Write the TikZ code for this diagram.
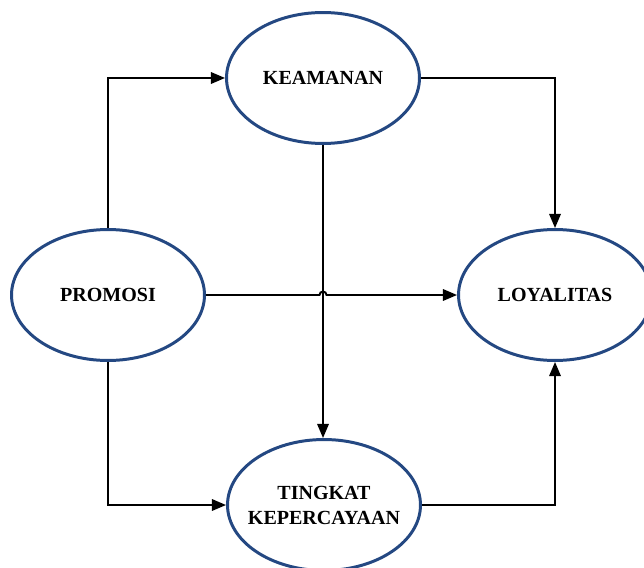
\documentclass[tikz,border=0pt]{standalone}
\usepackage{fontspec}
\setmainfont{Liberation Serif}
\usetikzlibrary{shapes.geometric,arrows.meta,calc}
\definecolor{ellblue}{RGB}{36,72,130}
\tikzset{
  varfont/.style={font=\fontsize{11.4}{14.2}\selectfont\bfseries},
  var/.style={ellipse, draw=ellblue, line width=1.7pt, inner sep=0pt,
    minimum width=3.86cm, minimum height=2.62cm, align=center, varfont},
  conn/.style={line width=1.1pt, -{Triangle[length=8pt,width=6.5pt]}}
}
\begin{document}
\begin{tikzpicture}[x=0.02cm,y=-0.02cm]
\useasboundingbox (0,0) rectangle (644,567);
\node[var] (K) at (323,78) {KEAMANAN};
\node[var] (P) at (108,295) {PROMOSI};
\node[var] (L) at (555,295) {LOYALITAS};
\node[var, label={[varfont, align=center]center:TINGKAT\\KEPERCAYAAN}] (T) at (324,505) {};
\draw[conn] (P.north) |- (K.west);
\draw[conn] (K.east) -| (L.north);
\draw[conn] (K.south) -- (K.south|-T.north);
\draw[conn] (P.south) |- (T.west);
\draw[conn] (T.east) -| (L.south);
\coordinate (hop) at ($(K.south|-P.east)+(-3.5,0)$);
\draw[conn] (P.east) -- (hop) arc[start angle=180,end angle=0,radius=0.07cm] -- (L.west);
\end{tikzpicture}
\end{document}
